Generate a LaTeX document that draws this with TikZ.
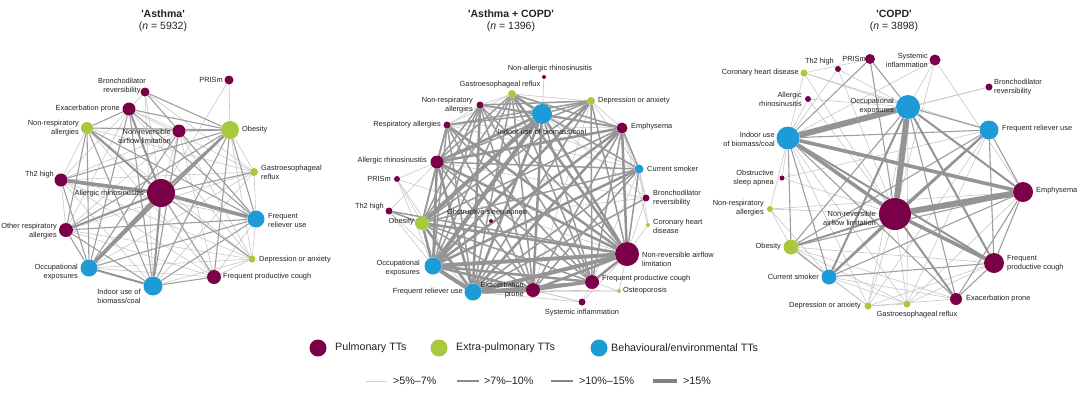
\documentclass[tikz,border=0pt]{standalone}
\usepackage{fontspec}
\setmainfont{Liberation Sans}
\usetikzlibrary{backgrounds}
\definecolor{pul}{HTML}{7A0047}
\definecolor{ext}{HTML}{A8C83E}
\definecolor{beh}{HTML}{1E9BD6}
\definecolor{txt}{HTML}{222222}
\tikzset{
 pn/.style={circle, fill=pul, inner sep=0pt, minimum size=#1pt},
 gn/.style={circle, fill=ext, inner sep=0pt, minimum size=#1pt},
 bn/.style={circle, fill=beh, inner sep=0pt, minimum size=#1pt},
 lbl/.style={font=\fontsize{7.4}{9}\selectfont, text=txt, inner sep=0pt},
 lr/.style={lbl, anchor=east, align=right},
 ll/.style={lbl, anchor=west, align=left},
 lc/.style={lbl, align=center},
 ttl/.style={font=\fontsize{10.5}{12}\selectfont\bfseries, text=txt, inner sep=0pt},
 sub/.style={font=\fontsize{10.5}{12}\selectfont, text=txt, inner sep=0pt},
 leg/.style={font=\fontsize{10.7}{12}\selectfont, text=txt, inner sep=0pt, anchor=west},
 e1/.style={draw=black!22, line width=0.6pt},
 e2/.style={draw=black!38, line width=1.1pt},
 e3/.style={draw=black!42, line width=2pt},
 e4/.style={draw=black!42, line width=3.6pt},
 e5/.style={draw=black!42, line width=6pt},
 f2/.style={draw=black!40, line width=1.5pt},
 f3/.style={draw=black!42, line width=2.5pt},
 f4/.style={draw=black!42, line width=4pt},
}
\begin{document}
\begin{tikzpicture}[x=1pt, y=-1pt]
\useasboundingbox (0,0) rectangle (1080,392);
% ---------------- titles
\node[ttl] (t1) at (163,14) {\textquotesingle Asthma\textquotesingle};
\node[sub] (s1) at (163,27) {(\textit{n} = 5932)};
\node[ttl] (t2) at (511,14) {\textquotesingle Asthma + COPD\textquotesingle};
\node[sub] (s2) at (511,27) {(\textit{n} = 1396)};
\node[ttl] (t3) at (894,14) {\textquotesingle COPD\textquotesingle};
\node[sub] (s3) at (894,27) {(\textit{n} = 3898)};
% ---------------- Asthma nodes
\node[pn=9] (aPRI) at (229,80) {};
\node[pn=9] (aBDR) at (145,92) {};
\node[pn=13] (aEXA) at (129,109) {};
\node[gn=12] (aNRA) at (87,128) {};
\node[pn=13] (aNRL) at (179,131) {};
\node[gn=18] (aOBE) at (230,130) {};
\node[gn=8] (aGER) at (254,172) {};
\node[pn=13] (aTH2) at (61,180) {};
\node[pn=28] (aALR) at (161,193) {};
\node[bn=17] (aFRU) at (256,219) {};
\node[pn=14] (aORA) at (66,230) {};
\node[gn=7] (aDEP) at (252,259) {};
\node[bn=17] (aOCC) at (89,268) {};
\node[pn=14] (aFPC) at (214,277) {};
\node[bn=19] (aIND) at (153,286) {};
% labels
\node[lr] (aPRIl) at (223,80) {PRISm};
\node[lc] (aBDRl) at (122,86) {Bronchodilator\\reversibility};
\node[lr] (aEXAl) at (120,109) {Exacerbation prone};
\node[lr] (aNRAl) at (79,128) {Non-respiratory\\allergies};
\node[lr] (aNRLl) at (171,136) {Non-reversible\\airflow limitation};
\node[ll] (aOBEl) at (242,130) {Obesity};
\node[ll] (aGERl) at (261,172) {Gastroesophageal\\reflux};
\node[lr] (aTH2l) at (54,175) {Th2 high};
\node[lr] (aALRl) at (144,194) {Allergic rhinosinusitis};
\node[ll] (aFRUl) at (268,220) {Frequent\\reliever use};
\node[lr] (aORAl) at (57,231) {Other respiratory\\allergies};
\node[ll] (aDEPl) at (259,260) {Depression or anxiety};
\node[lr] (aOCCl) at (78,272) {Occupational\\exposures};
\node[ll] (aFPCl) at (223,277) {Frequent productive cough};
\node[lc] (aINDl) at (119,296) {Indoor use of\\biomass/coal};
% ---------------- Asthma + COPD nodes
\node[pn=4] (mNAR) at (544,77) {};
\node[gn=8] (mGER) at (512,94) {};
\node[gn=8] (mDEP) at (591,101) {};
\node[pn=7] (mNRA) at (480,105) {};
\node[bn=20] (mIND) at (542,114) {};
\node[pn=7] (mRA) at (447,125) {};
\node[pn=11] (mEMP) at (622,128) {};
\node[pn=13] (mALR) at (437,162) {};
\node[bn=9] (mCS) at (639,169) {};
\node[pn=6] (mPRI) at (397,179) {};
\node[pn=7] (mBDR) at (646,198) {};
\node[pn=7] (mTH2) at (389,211) {};
\node[gn=14] (mOBE) at (422,223) {};
\node[pn=4] (mOSA) at (491,221) {};
\node[gn=4] (mCHD) at (648,225) {};
\node[pn=24] (mNRL) at (627,254) {};
\node[bn=17] (mOCC) at (433,266) {};
\node[pn=14] (mFPC) at (592,282) {};
\node[bn=17] (mFRU) at (473,292) {};
\node[pn=14] (mEXA) at (533,290) {};
\node[gn=4] (mOST) at (619,291) {};
\node[pn=7] (mSI) at (582,302) {};
% labels
\node[lc] (mNARl) at (550,69) {Non-allergic rhinosinusitis};
\node[lc] (mGERl) at (500,85) {Gastroesophageal reflux};
\node[lr] (mNRAl) at (473,105) {Non-respiratory\\allergies};
\node[ll] (mDEPl) at (598,101) {Depression or anxiety};
\node[lc] (mINDl) at (542,132) {Indoor use of biomass/coal};
\node[lr] (mRAl) at (441,125) {Respiratory allergies};
\node[ll] (mEMPl) at (631,127) {Emphysema};
\node[lr] (mALRl) at (427,161) {Allergic rhinosinusitis};
\node[ll] (mCSl) at (647,169) {Current smoker};
\node[lr] (mPRIl) at (391,179) {PRISm};
\node[ll] (mBDRl) at (653,198) {Bronchodilator\\reversibility};
\node[lr] (mTH2l) at (384,207) {Th2 high};
\node[lr] (mOBEl) at (414,222) {Obesity};
\node[lc] (mOSAl) at (487,213) {Obstructive sleep apnea};
\node[ll] (mCHDl) at (653,226) {Coronary heart\\disease};
\node[ll] (mNRLl) at (642,259) {Non-reversible airflow\\limitation};
\node[lr] (mOCCl) at (420,268) {Occupational\\exposures};
\node[ll] (mFPCl) at (602,279) {Frequent productive cough};
\node[lr] (mFRUl) at (463,292) {Frequent reliever use};
\node[lr] (mEXAl) at (524,290) {Exacerbation\\prone};
\node[ll] (mOSTl) at (623,291) {Osteoporosis};
\node[lc] (mSIl) at (582,313) {Systemic inflammation};
% ---------------- COPD nodes
\node[pn=10] (cPRI) at (870,59) {};
\node[pn=11] (cSI) at (935,60) {};
\node[pn=6] (cTH2) at (838,69) {};
\node[gn=7] (cCHD) at (804,73) {};
\node[pn=7] (cBDR) at (989,87) {};
\node[pn=6] (cALR) at (808,99) {};
\node[bn=24] (cOCC) at (908,107) {};
\node[bn=19] (cFRU) at (989,130) {};
\node[bn=23] (cIND) at (788,138) {};
\node[pn=5] (cOSA) at (782,178) {};
\node[pn=20] (cEMP) at (1023,192) {};
\node[gn=6] (cNRA) at (770,209) {};
\node[pn=32] (cNRL) at (895,214) {};
\node[gn=15] (cOBE) at (791,247) {};
\node[pn=20] (cFPC) at (994,263) {};
\node[bn=15] (cCS) at (829,277) {};
\node[pn=12] (cEXA) at (956,299) {};
\node[gn=7] (cDEP) at (868,306) {};
\node[gn=7] (cGER) at (907,304) {};
% labels
\node[lr] (cPRIl) at (866,59) {PRISm};
\node[lr] (cSIl) at (928,60) {Systemic\\inflammation};
\node[lr] (cTH2l) at (834,62) {Th2 high};
\node[lr] (cCHDl) at (799,73) {Coronary heart disease};
\node[ll] (cBDRl) at (994,87) {Bronchodilator\\reversibility};
\node[lr] (cALRl) at (802,99) {Allergic\\rhinosinusitis};
\node[lr] (cOCCl) at (894,106) {Occupational\\exposures};
\node[ll] (cFRUl) at (1002,129) {Frequent reliever use};
\node[lr] (cINDl) at (775,139) {Indoor use\\of biomass/coal};
\node[lr] (cOSAl) at (774,178) {Obstructive\\sleep apnea};
\node[ll] (cEMPl) at (1036,191) {Emphysema};
\node[lr] (cNRAl) at (764,208) {Non-respiratory\\allergies};
\node[lr] (cNRLl) at (876,218) {Non-reversible\\airflow limitation};
\node[lr] (cOBEl) at (781,247) {Obesity};
\node[ll] (cFPCl) at (1007,263) {Frequent\\productive cough};
\node[lr] (cCSl) at (819,277) {Current smoker};
\node[ll] (cEXAl) at (966,299) {Exacerbation prone};
\node[lr] (cDEPl) at (861,306) {Depression or anxiety};
\node[lc] (cGERl) at (917,315) {Gastroesophageal reflux};
% ---------------- edges
\begin{pgfonlayer}{background}
% Asthma
\foreach \a/\b in {aPRI/aOBE, aPRI/aALR, aBDR/aEXA, aBDR/aGER, aBDR/aIND, aBDR/aALR, aEXA/aNRL, aEXA/aGER, aEXA/aDEP, aEXA/aTH2, aEXA/aORA, aNRA/aGER, aNRA/aDEP, aNRA/aFPC, aNRA/aTH2, aNRA/aNRL, aNRL/aFRU, aNRL/aTH2, aNRL/aFPC, aNRL/aDEP, aNRL/aALR, aNRL/aORA, aTH2/aGER, aTH2/aFRU, aTH2/aORA, aTH2/aFPC, aTH2/aDEP, aORA/aGER, aORA/aDEP, aORA/aFPC, aOCC/aDEP, aOCC/aFPC, aOCC/aGER, aIND/aDEP, aIND/aGER, aFRU/aDEP, aFRU/aFPC, aFPC/aDEP, aOBE/aGER, aOBE/aDEP, aGER/aFRU, aTH2/aIND}
  \draw[e1] (\a) -- (\b);
\foreach \a/\b in {aTH2/aOBE, aTH2/aOCC, aNRA/aORA, aNRA/aOCC, aNRA/aIND, aNRA/aFRU, aNRA/aOBE, aEXA/aOBE, aEXA/aOCC, aEXA/aFRU, aEXA/aIND, aBDR/aOBE, aBDR/aFRU, aNRL/aOBE, aNRL/aIND, aNRL/aOCC, aOBE/aFRU, aOBE/aFPC, aOBE/aORA, aOBE/aIND, aALR/aFPC, aALR/aGER, aALR/aDEP, aORA/aIND, aORA/aFRU, aORA/aOCC, aOCC/aFRU, aIND/aFRU, aIND/aFPC, aEXA/aNRA}
  \draw[e2] (\a) -- (\b);
\foreach \a/\b in {aALR/aORA, aALR/aEXA, aALR/aNRA, aALR/aIND, aOCC/aIND, aOBE/aOCC, aALR/aOBE}
  \draw[e3] (\a) -- (\b);
\foreach \a/\b in {aALR/aTH2, aALR/aFRU, aALR/aOCC}
  \draw[e4] (\a) -- (\b);
% Asthma + COPD
\foreach \a/\b in {mGER/mDEP, mGER/mNRA, mGER/mRA, mGER/mCS, mDEP/mEMP, mDEP/mCS, mDEP/mEXA, mNRA/mRA, mNRA/mCS, mRA/mEMP, mRA/mCS, mCS/mFPC,
  mNAR/mIND, mPRI/mALR, mPRI/mOBE, mPRI/mOCC, mPRI/mNRL, mPRI/mFRU, mTH2/mALR, mTH2/mOCC, mTH2/mFRU, mBDR/mCS, mBDR/mNRL, mBDR/mIND, mBDR/mALR, mBDR/mEMP, mBDR/mOBE, mCHD/mNRL, mCHD/mCS, mCHD/mEMP, mOST/mFPC, mOST/mNRL, mOST/mEXA, mOST/mFRU, mSI/mFPC, mSI/mEXA, mSI/mFRU, mSI/mNRL, mSI/mOCC}
  \draw[e1] (\a) -- (\b);
\foreach \a/\b in {mGER/mEMP, mGER/mALR, mGER/mOBE, mGER/mOCC, mGER/mFPC, mGER/mFRU, mGER/mEXA,
  mDEP/mNRA, mDEP/mIND, mDEP/mRA, mDEP/mALR, mDEP/mOBE, mDEP/mNRL, mDEP/mFPC, mDEP/mFRU,
  mNRA/mIND, mNRA/mEMP, mNRA/mALR, mNRA/mOBE, mNRA/mNRL, mNRA/mOCC, mNRA/mFPC, mNRA/mEXA,
  mIND/mRA, mIND/mEMP, mIND/mCS, mIND/mFPC,
  mRA/mALR, mRA/mOBE, mRA/mOCC, mRA/mFPC, mRA/mFRU, mRA/mEXA,
  mEMP/mCS, mEMP/mOBE, mEMP/mFPC, mEMP/mEXA,
  mALR/mCS, mALR/mOBE, mALR/mFPC, mALR/mEXA,
  mCS/mOBE, mCS/mNRL, mCS/mFRU, mCS/mEXA,
  mOBE/mFPC, mOBE/mEXA, mTH2/mOBE, mTH2/mNRL, mBDR/mFRU}
  \draw[f2] (\a) -- (\b);
\foreach \a/\b in {mGER/mIND, mGER/mNRL, mDEP/mOCC, mNRA/mFRU, mIND/mALR, mIND/mNRL, mIND/mFRU, mIND/mEXA, mRA/mNRL,
  mEMP/mALR, mEMP/mNRL, mEMP/mOCC, mEMP/mFRU, mALR/mNRL, mALR/mOCC, mALR/mFRU, mCS/mOCC,
  mOBE/mNRL, mOBE/mOCC, mOBE/mFRU, mNRL/mFPC, mNRL/mEXA, mOCC/mFPC, mOCC/mEXA, mFPC/mFRU, mFPC/mEXA}
  \draw[f3] (\a) -- (\b);
\foreach \a/\b in {mIND/mOCC, mOCC/mNRL, mFRU/mNRL, mFRU/mEXA, mOCC/mFRU, mIND/mOBE}
  \draw[f4] (\a) -- (\b);
% COPD
\foreach \a/\b in {cSI/cOCC, cSI/cNRL, cSI/cIND, cSI/cEMP, cTH2/cOCC, cTH2/cIND, cTH2/cNRL, cCHD/cOCC, cCHD/cIND, cCHD/cNRL, cCHD/cFRU, cBDR/cIND, cBDR/cOCC, cALR/cOCC, cALR/cIND, cALR/cNRL, cOSA/cIND, cOSA/cNRL, cOSA/cFRU, cNRA/cIND, cNRA/cOBE, cNRA/cCS, cNRA/cEMP, cNRA/cNRL, cDEP/cCS, cDEP/cNRL, cDEP/cIND, cDEP/cOBE, cDEP/cOCC, cDEP/cGER, cGER/cCS, cGER/cOBE, cGER/cNRL, cGER/cOCC, cGER/cIND, cEXA/cCS, cEXA/cOBE, cEXA/cDEP, cOBE/cFPC, cPRI/cCHD, cFRU/cDEP, cFRU/cGER, cEMP/cGER, cFPC/cGER, cFPC/cDEP}
  \draw[e1] (\a) -- (\b);
\foreach \a/\b in {cIND/cFRU, cOCC/cEXA, cOCC/cOBE, cIND/cCS, cIND/cOBE, cIND/cEXA, cEMP/cOBE, cEMP/cCS, cEMP/cFPC, cFRU/cEMP, cFRU/cFPC, cFRU/cOBE, cFPC/cCS, cFPC/cEXA, cEMP/cEXA, cPRI/cOCC, cPRI/cNRL, cOBE/cCS, cOCC/cFRU, cPRI/cIND}
  \draw[e2] (\a) -- (\b);
\foreach \a/\b in {cFRU/cCS, cFRU/cNRL, cOCC/cEMP, cOCC/cFPC, cOCC/cCS, cNRL/cEXA, cNRL/cOBE, cNRL/cCS, cIND/cFPC}
  \draw[e3] (\a) -- (\b);
\foreach \a/\b in {cIND/cNRL, cNRL/cFPC, cIND/cEMP}
  \draw[e4] (\a) -- (\b);
\foreach \a/\b in {cIND/cOCC, cOCC/cNRL, cNRL/cEMP}
  \draw[e5] (\a) -- (\b);
\end{pgfonlayer}
% ---------------- legend
\node[pn=17] (gP) at (318,348) {};
\node[leg] (gPl) at (335,348) {Pulmonary TTs};
\node[gn=17] (gE) at (439,348) {};
\node[leg] (gEl) at (456,348) {Extra-pulmonary TTs};
\node[bn=17] (gB) at (599,348) {};
\node[leg] (gBl) at (611,348) {Behavioural/environmental TTs};
\node[leg] (w1) at (393,381) {>5\%–7\%};
\node[leg] (w2) at (484,381) {>7\%–10\%};
\node[leg] (w3) at (579,381) {>10\%–15\%};
\node[leg] (w4) at (683,381) {>15\%};
\coordinate (w1s) at (366,381);
\coordinate (w2s) at (457,381);
\coordinate (w3s) at (551,381);
\coordinate (w4s) at (653,381);
\draw[draw=black!18, line width=0.8pt] (w1s) -- ([xshift=-6pt]w1.west);
\draw[draw=black!45, line width=1.2pt] (w2s) -- ([xshift=-5pt]w2.west);
\draw[draw=black!48, line width=2pt] (w3s) -- ([xshift=-6pt]w3.west);
\draw[draw=black!50, line width=3.8pt] (w4s) -- ([xshift=-6pt]w4.west);
\end{tikzpicture}
\end{document}
